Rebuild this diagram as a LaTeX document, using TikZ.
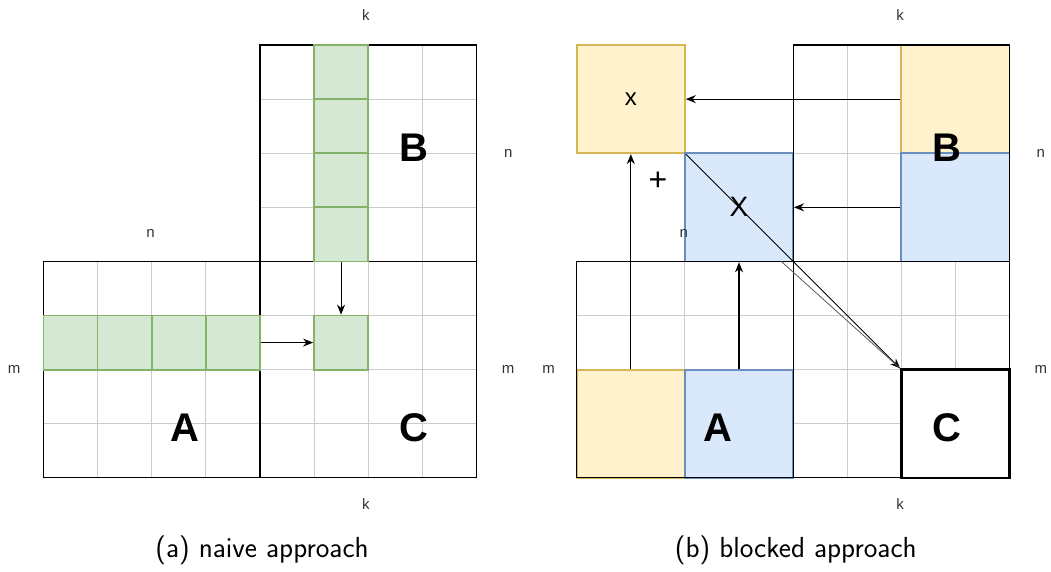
\documentclass[tikz,border=0pt]{standalone}
\usepackage{fontspec}
\setmainfont{Liberation Sans}
\usetikzlibrary{arrows.meta}
\definecolor{greenfill}{HTML}{D5E8D4}
\definecolor{greenline}{HTML}{82B366}
\definecolor{yellowfill}{HTML}{FFF2CC}
\definecolor{yellowline}{HTML}{D6B656}
\definecolor{bluefill}{HTML}{DAE8FC}
\definecolor{blueline}{HTML}{6C8EBF}
\definecolor{gridgray}{HTML}{CCCCCC}

\begin{document}
\begin{tikzpicture}[x=54.1pt,y=-54.1pt,>={Stealth[length=10pt,width=8pt]},
gridline/.style={gridgray,line width=0.9pt},
matframe/.style={draw=black,line width=1.2pt,minimum size=216.4pt,inner sep=0pt},
greencell/.style={draw=greenline,fill=greenfill,line width=1.8pt,minimum size=54.1pt,inner sep=0pt},
block/.style={line width=1.8pt,minimum size=108.2pt,inner sep=0pt},
yellowblock/.style={block,draw=yellowline,fill=yellowfill},
blueblock/.style={block,draw=blueline,fill=bluefill},
cblock/.style={draw=black,fill=white,line width=2.4pt,minimum size=108.2pt,inner sep=0pt},
dimlabel/.style={font=\fontsize{15}{15}\selectfont,text=black!80,inner sep=0pt},
matletter/.style={font=\fontsize{40}{40}\selectfont\bfseries,inner sep=0pt},
subcap/.style={font=\fontsize{29}{32}\sffamily\selectfont,inner sep=0pt},
link/.style={->,line width=1.1pt}]
\useasboundingbox (0,0) rectangle (19.427,10.573);

% naive approach
\begin{scope}[shift={(0.804,0.832)}]
  \foreach \i in {1,2,3} {
    \draw[gridline] (\i,4) -- (\i,8);
    \draw[gridline] (4+\i,0) -- (4+\i,8);
    \draw[gridline] (0,4+\i) -- (8,4+\i);
    \draw[gridline] (4,\i) -- (8,\i);
  }
  \node[matframe] (Amat) at (2,6) {};
  \node[matframe] (Bmat) at (6,2) {};
  \node[matframe] (Cmat) at (6,6) {};
  % one row of A, one column of B
  \foreach \i in {1,...,4} {
    \node[greencell] (arow\i) at (\i-0.5,5.5) {};
    \node[greencell] (bcol\i) at (5.5,\i-0.5) {};
  }
  \node[greencell] (celem) at (5.5,5.5) {};
  \draw[link] (bcol4) -- (celem);
  \draw[link] (arow4) -- (celem);

  \node[matletter] (Aname) at (2.62,7.08) {A};
  \node[matletter] (Bname) at (6.85,1.9) {B};
  \node[matletter] (Cname) at (6.85,7.08) {C};
  \node[dimlabel] (ktop) at (5.96,-0.55) {k};
  \node[dimlabel] (nright) at (8.59,2.0) {n};
  \node[dimlabel] (ntop) at (1.98,3.49) {n};
  \node[dimlabel] (mleft) at (-0.545,5.99) {m};
  \node[dimlabel] (mright) at (8.59,5.99) {m};
  \node[dimlabel] (kbottom) at (5.96,8.48) {k};
  \node[subcap] (capa) at (4.04,9.33) {(a) naive approach};
\end{scope}

% blocked approach
\begin{scope}[shift={(10.66,0.832)}]
  \foreach \i in {1,2,3} {
    \draw[gridline] (\i,4) -- (\i,8);
    \draw[gridline] (4+\i,0) -- (4+\i,8);
    \draw[gridline] (0,4+\i) -- (8,4+\i);
    \draw[gridline] (4,\i) -- (8,\i);
  }
  \node[yellowblock] (xblk) at (1,1) {\fontsize{24}{24}\selectfont x};
  \node[blueblock] (Xblk) at (3,3) {\fontsize{28}{28}\selectfont X};
  \node[yellowblock] (btop) at (7,1) {};
  \node[blueblock] (bbot) at (7,3) {};
  \node[yellowblock] (aleft) at (1,7) {};
  \node[blueblock] (aright) at (3,7) {};
  \node[matframe] (Ablocked) at (2,6) {};
  \node[matframe] (Bblocked) at (6,2) {};
  \node[matframe] (Cblocked) at (6,6) {};
  \node[cblock] (cblk) at (7,7) {};

  \draw[link] (btop) -- (xblk);
  \draw[link] (bbot) -- (Xblk);
  \draw[link] (aleft) -- (xblk);
  \draw[link] (aright) -- (Xblk);
  \draw[link,line width=0.8pt] (xblk.south east) -- (cblk.north west);
  \coordinate (split) at (3.78,4);
  \draw[black!65,line width=0.8pt] (split) -- (cblk.north west);

  \node[font=\fontsize{32}{32}\selectfont,inner sep=0pt] (plus) at (1.5,2.51) {+};
  \node[matletter] (Ablkname) at (2.61,7.08) {A};
  \node[matletter] (Bblkname) at (6.84,1.9) {B};
  \node[matletter] (Cblkname) at (6.84,7.08) {C};
  \node[dimlabel] (ktopb) at (5.98,-0.55) {k};
  \node[dimlabel] (nrightb) at (8.58,2.0) {n};
  \node[dimlabel] (ninner) at (1.98,3.48) {n};
  \node[dimlabel] (mleftb) at (-0.52,5.99) {m};
  \node[dimlabel] (mrightb) at (8.58,5.99) {m};
  \node[dimlabel] (kbottomb) at (5.98,8.48) {k};
  \node[subcap] (capb) at (4.05,9.33) {(b) blocked approach};
\end{scope}
\end{tikzpicture}
\end{document}
